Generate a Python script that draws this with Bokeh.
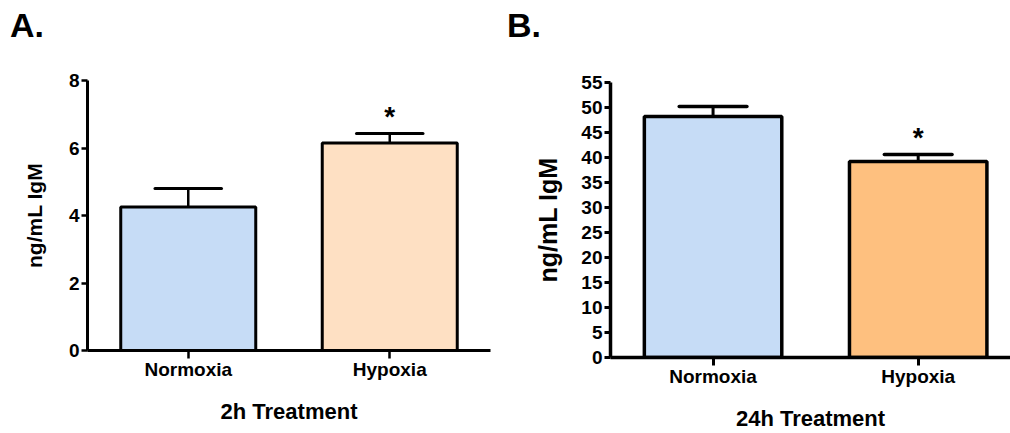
from bokeh.plotting import figure
from bokeh.models import FixedTicker, Div, ColumnDataSource, Range1d
from bokeh.layouts import row, column
from bokeh.embed import file_html
from bokeh.resources import INLINE
from bokeh.core.properties import value

categories = ["Normoxia", "Hypoxia"]
a_means = [4.25, 6.15]
a_sem = [0.55, 0.28]
a_sig = ["", "*"]
b_means = [48.2, 39.2]
b_sem = [2.0, 1.4]
b_sig = ["", "*"]
a_ticks = [0, 2, 4, 6, 8]
b_ticks = list(range(0, 60, 5))

FONT = "Liberation Sans"
HEAD = 45


def panel(letter, means, sem, sig, colors, ticks, ymax, xlabel, width, left, right, top, bottom,
          xend, lw, ylabel_size, ylabel_standoff, xlabel_standoff, letter_pad):
    xs = [i + 1 for i in range(len(categories))]
    tops = [m + s for m, s in zip(means, sem)]
    src = ColumnDataSource(dict(x=xs, top=means, err=tops, color=colors, sig=sig))
    p = figure(width=width, height=433 - HEAD, output_backend="svg", toolbar_location=None,
               x_range=Range1d(0.5, xend), y_range=Range1d(0, ymax),
               min_border_left=left, min_border_right=right,
               min_border_top=top - HEAD, min_border_bottom=bottom)
    p.title = None
    p.outline_line_color = None
    p.grid.visible = False
    p.vbar(x="x", top="top", bottom=0, width=0.67, fill_color="color",
           line_color="black", line_width=lw, source=src)
    p.segment(x0="x", y0="top", x1="x", y1="err", line_color="black", line_width=lw - 0.5, source=src)
    cap = 0.33
    p.segment(x0=[x - cap / 2 for x in xs], y0=tops, x1=[x + cap / 2 for x in xs], y1=tops,
              line_color="black", line_width=lw, line_cap="round")
    p.text(x="x", y="err", text="sig", source=src, text_align="center", text_baseline="middle",
           y_offset=-17, text_font=value(FONT), text_font_size="28px", text_font_style="bold",
           text_color="black")
    # axes
    p.xaxis.ticker = FixedTicker(ticks=xs)
    p.xaxis.major_label_overrides = {x: c for x, c in zip(xs, categories)}
    p.xaxis.minor_tick_line_color = None
    p.yaxis.minor_tick_line_color = None
    p.yaxis.ticker = FixedTicker(ticks=ticks)
    for ax in (p.xaxis[0], p.yaxis[0]):
        ax.axis_line_width = lw
        ax.major_tick_line_width = lw - 0.5
        ax.major_tick_in = 0
        ax.major_label_text_font = FONT
        ax.major_label_text_font_style = "bold"
        ax.major_label_text_color = "black"
        ax.axis_label_text_font = FONT
        ax.axis_label_text_font_style = "bold"
        ax.axis_label_text_color = "black"
    p.xaxis.major_tick_out = 8
    p.yaxis.major_tick_out = 6
    p.xaxis.major_label_text_font_size = "19px"
    p.yaxis.major_label_text_font_size = "19px"
    p.yaxis.major_label_standoff = 2
    p.xaxis.major_label_standoff = 0
    p.xaxis.axis_label = xlabel
    p.xaxis.axis_label_text_font_size = "22px"
    p.xaxis.axis_label_standoff = xlabel_standoff
    p.yaxis.axis_label = "ng/mL IgM"
    p.yaxis.axis_label_text_font_size = ylabel_size
    p.yaxis.axis_label_standoff = ylabel_standoff

    head = Div(text=letter, width=width, height=HEAD, margin=(0, 0, 0, 0),
               styles={"font-family": FONT, "font-size": "34px", "font-weight": "bold",
                       "line-height": "34px", "padding-top": "8px",
                       "padding-left": f"{letter_pad}px", "color": "black"})
    return column(head, p, spacing=0)


pA = panel("A.", a_means, a_sem, a_sig, ["#c6dcf6", "#fee0c3"], a_ticks, 8, "2h Treatment",
           505, 87, 15, 80, 83, 2.5, 3, "21px", 20, 16, 10)
pB = panel("B.", b_means, b_sem, b_sig, ["#c6dcf6", "#fec07f"], b_ticks, 55, "24h Treatment",
           505, 105, 0, 82, 76, 2.45, 3.5, "25px", 16, 16, 2)

layout = row(pA, pB, spacing=0)
open("out.html", "w").write(file_html(layout, INLINE))
